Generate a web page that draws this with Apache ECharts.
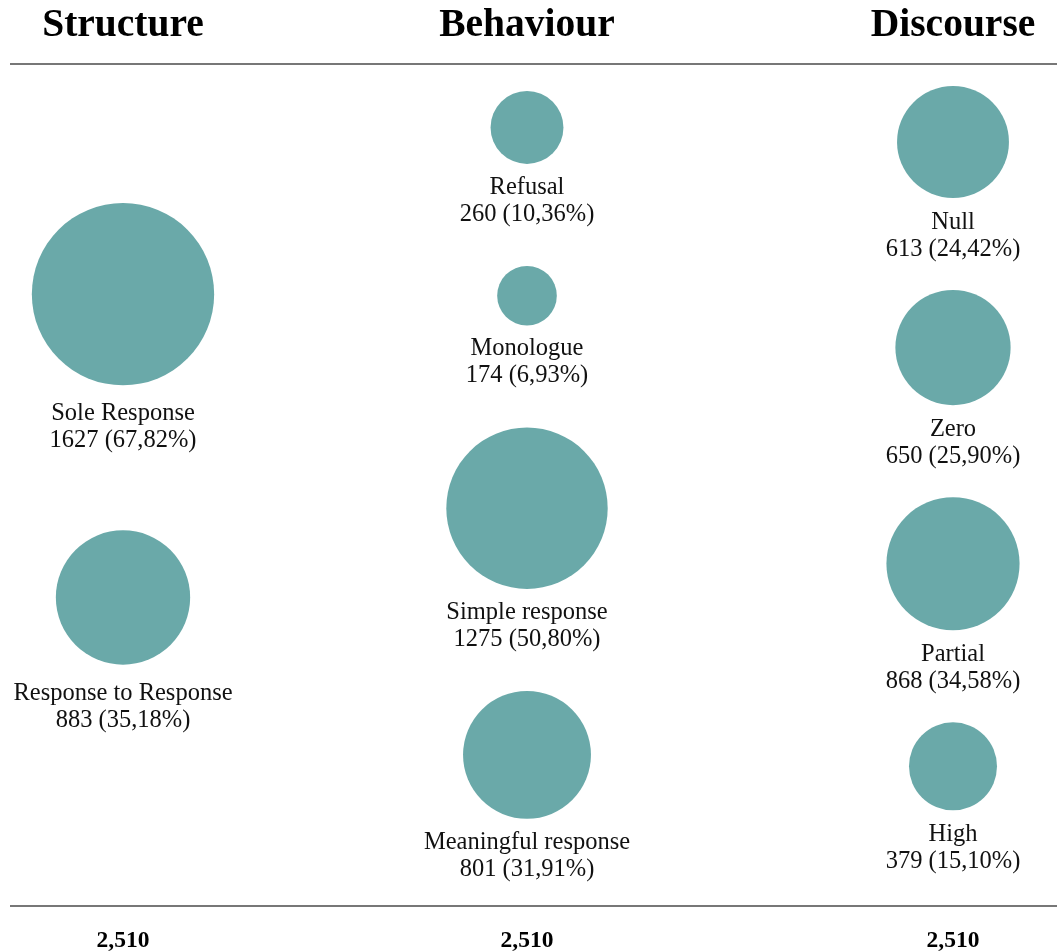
<!DOCTYPE html>
<html>
<head>
<meta charset="utf-8">
<script src="https://cdn.jsdelivr.net/npm/echarts@6/dist/echarts.min.js"></script>
<style>
  html, body { margin: 0; padding: 0; background: #fff; }
  #chart { width: 1057px; height: 951px; }
</style>
</head>
<body>
<div id="chart"></div>
<script>
// column headers and totals
const columns = ['Structure', 'Behaviour', 'Discourse']
const totals = ['2,510', '2,510', '2,510']

// Structure
const structureNames = ['Sole Response', 'Response to Response']
const structureCounts = [1627, 883]
const structurePct = ['67,82', '35,18']

// Behaviour
const behaviourNames = ['Refusal', 'Monologue', 'Simple response', 'Meaningful response']
const behaviourCounts = [260, 174, 1275, 801]
const behaviourPct = ['10,36', '6,93', '50,80', '31,91']

// Discourse
const discourseNames = ['Null', 'Zero', 'Partial', 'High']
const discourseCounts = [613, 650, 868, 379]
const discoursePct = ['24,42', '25,90', '34,58', '15,10']

// layout (px)
const W = 1057, H = 951
const colX = [123, 527, 953]
const colTop = [203, 91, 86]   // top of first circle in each column
const colGap = [88, 45, 35]    // gap between label block and next circle
const labelDist = [15, 10, 11]
const labelBlock = 57
const radiusK = 2.26           // radius = k * sqrt(count)
const font = 'Liberation Serif'

const groups = [
  { names: structureNames, counts: structureCounts, pct: structurePct },
  { names: behaviourNames, counts: behaviourCounts, pct: behaviourPct },
  { names: discourseNames, counts: discourseCounts, pct: discoursePct }
]

// stack each column's bubbles top to bottom
let points = []
groups.forEach((g, c) => {
  let top = colTop[c]
  for (let i = 0; i < g.counts.length; i++) {
    let r = radiusK * Math.sqrt(g.counts[i])
    points.push({
      name: g.names[i],
      value: [colX[c], top + r, g.counts[i]],
      pct: g.pct[i],
      label: { distance: labelDist[c] }
    })
    top += 2 * r + labelBlock + colGap[c]
  }
})

let myChart = echarts.init(document.getElementById('chart'))
let option = {
  backgroundColor: '#fff',
  animation: false,
  title: columns.map((t, i) => ({
    text: t,
    left: colX[i] - 5,
    top: 1,
    textAlign: 'center',
    textStyle: { fontFamily: font, fontSize: 39.5, fontWeight: 'bold', color: '#000' }
  })).concat(totals.map((t, i) => ({
    text: t,
    left: colX[i] - 5,
    top: 924,
    textAlign: 'center',
    textStyle: { fontFamily: font, fontSize: 23.5, fontWeight: 'bold', color: '#000' }
  }))),
  grid: { left: 0, right: 0, top: 0, bottom: 0 },
  xAxis: { type: 'value', min: 0, max: W, show: false },
  yAxis: { type: 'value', min: 0, max: H, inverse: true, show: false },
  graphic: [
    { type: 'line', shape: { x1: 10, y1: 64, x2: W, y2: 64 }, style: { stroke: '#777', lineWidth: 2 } },
    { type: 'line', shape: { x1: 10, y1: 906, x2: W, y2: 906 }, style: { stroke: '#777', lineWidth: 2 } }
  ],
  series: [{
    type: 'scatter',
    data: points,
    symbol: 'circle',
    symbolSize: function (val) {
      return 2 * radiusK * Math.sqrt(val[2])
    },
    itemStyle: { color: '#6aa9a9', opacity: 1 },
    emphasis: { disabled: true },
    label: {
      show: true,
      position: 'bottom',
      fontFamily: font,
      fontSize: 24.5,
      lineHeight: 27,
      color: '#111',
      align: 'center',
      formatter: function (p) {
        return p.name + '\n' + p.value[2] + ' (' + p.data.pct + '%)'
      }
    }
  }]
}
myChart.setOption(option)
</script>
</body>
</html>
